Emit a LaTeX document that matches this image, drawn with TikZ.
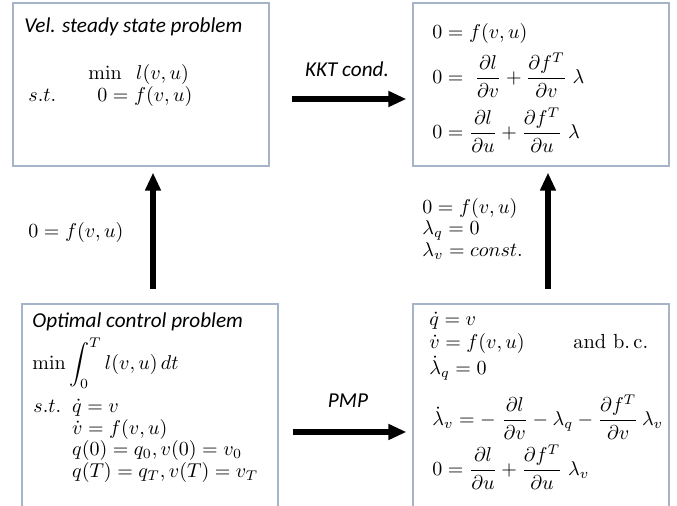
\documentclass[tikz,border=0pt]{standalone}
\usepackage{amsmath}
\usepackage[no-math]{fontspec}
\newfontfamily\lblfont{Carlito}
\usetikzlibrary{positioning, arrows.meta}
\definecolor{boxline}{RGB}{165,180,200}

\begin{document}
\begin{tikzpicture}[
    x=0.5pt, y=-0.5pt,
    box/.style={draw=boxline, line width=0.6pt, minimum width=128pt, inner sep=0pt},
    lbl/.style={inner sep=0pt, font=\fontsize{10.6}{12}\selectfont\lblfont\itshape},
    eq/.style={anchor=base west, inner sep=0pt, font=\fontsize{10.2}{12}\selectfont},
    stack/.style={eq, font=\fontsize{10.2}{10.75}\selectfont},
    fat/.style={line width=3pt, -{Triangle[length=9pt, width=7.5pt]}}
  ]
  \useasboundingbox (0,0) rectangle (677,506);
  \clip (0,0) rectangle (677,506);

  % the four problem boxes
  \node[box, minimum height=81.5pt] (vss) at (141,84.5) {};
  \node[box, minimum height=81.5pt] (kkt) at (541,84.5) {};
  \node[box, minimum height=108pt] (ocp) at (150,412) {};
  \node[box, minimum height=108pt] (pmp) at (541,412) {};

  % velocity steady state problem
  \node[lbl, anchor=base west] (vsstitle) at (24,33) {Vel. steady state problem};
  \node[eq] (vssmin) at (88,80) {$\min\;\; l(v,u)$};
  \node[eq] (vssst) at (28,102) {$s.t.$};
  \node[eq] (vsscon) at (97,102) {$0 = f(v,u)$};

  % KKT conditions
  \node[eq] (kkt1) at (432,38.5) {$0 = f(v,u)$};
  \node[eq] (kkt2) at (432,83.5) {$0 = \;\dfrac{\partial l}{\partial v} + \dfrac{\partial f^T}{\partial v}\;\lambda$};
  \node[eq] (kkt3) at (432,138.5) {$0 = \dfrac{\partial l}{\partial u} + \dfrac{\partial f^T}{\partial u}\;\lambda$};

  % optimal control problem
  \node[lbl, anchor=base west] (ocptitle) at (32,328) {Optimal control problem};
  \node[eq] (ocpmin) at (32,370) {$\displaystyle\min\int_0^T l(v,u)\,dt$};
  \node[stack] (ocpst) at (33,413) {$\begin{array}[t]{@{}l@{\hspace{5.5pt}}l@{}}
      s.t. & \dot q = v\\
           & \dot v = f(v,u)\\
           & q(0) = q_0, v(0) = v_0\\
           & q(T) = q_T, v(T) = v_T
    \end{array}$};

  % PMP conditions
  \node[stack] (pmpdyn) at (429,326) {$\begin{array}[t]{@{}l@{}}
      \dot q = v\\[0.5pt]
      \dot v = f(v,u)\\[0.5pt]
      \dot\lambda_q = 0
    \end{array}$};
  \node[eq] (pmpbc) at (573,348.5) {and b.\,c.};
  \node[eq] (pmp4) at (432,425.5) {$\dot\lambda_v = -\;\dfrac{\partial l}{\partial v} - \lambda_q - \dfrac{\partial f^T}{\partial v}\,\lambda_v$};
  \node[eq] (pmp5) at (432,475.5) {$0 = \dfrac{\partial l}{\partial u} + \dfrac{\partial f^T}{\partial u}\;\lambda_v$};

  % reductions between the problems
  \node[eq] (redvss) at (28,237.5) {$0 = f(v,u)$};
  \node[stack] (redkkt) at (422,213.5) {$\begin{array}[t]{@{}l@{}}
      0 = f(v,u)\\
      \lambda_q = 0\\
      \lambda_v = const.
    \end{array}$};
  \node[lbl, anchor=base] (kktlbl) at (347,77) {KKT cond.};
  \node[lbl, anchor=base] (pmplbl) at (348,408) {PMP};

  \draw[fat, shorten <=11pt, shorten >=3pt] ([yshift=-7.25pt]vss.east) -- ([yshift=-7.25pt]kkt.west);
  \draw[fat, shorten <=7pt, shorten >=3pt] ([yshift=-10pt]ocp.east) -- ([yshift=-10pt]pmp.west);
  \draw[fat, shorten <=7pt, shorten >=3pt] ([xshift=1.5pt]ocp.north) -- ([xshift=1.5pt]ocp.north |- vss.south);
  \draw[fat, shorten <=7pt, shorten >=3pt] ([xshift=3.5pt]pmp.north) -- ([xshift=3.5pt]pmp.north |- kkt.south);
\end{tikzpicture}
\end{document}
